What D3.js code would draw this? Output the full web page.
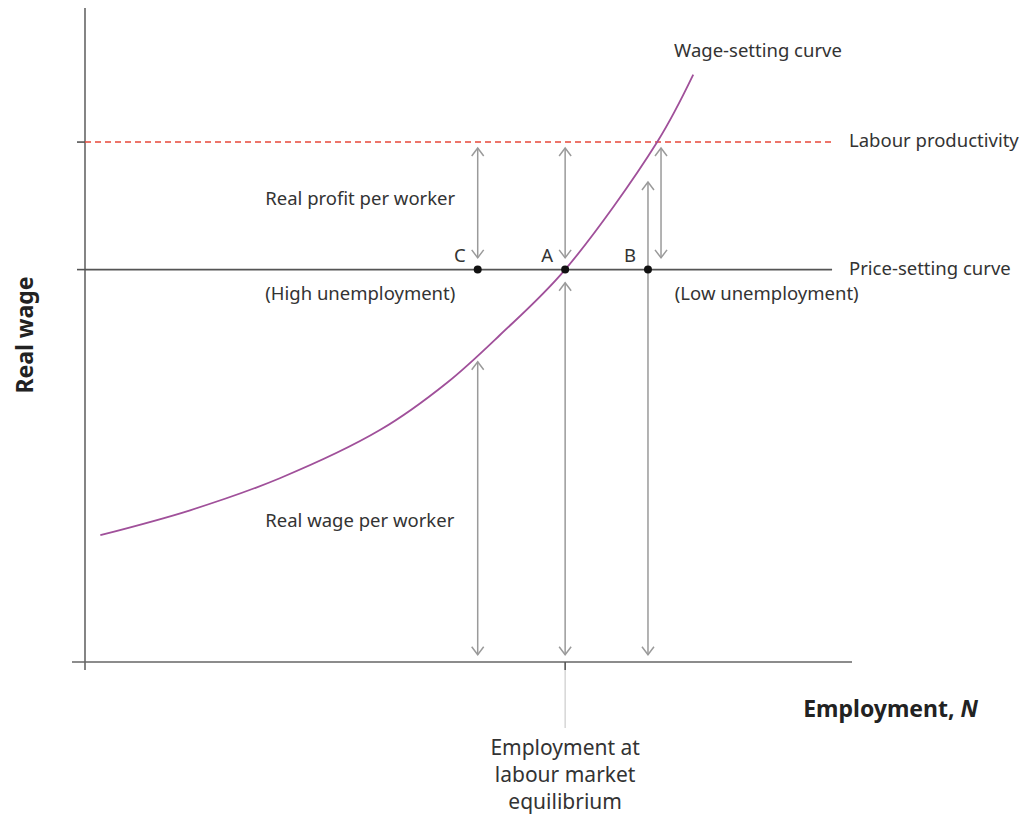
<!DOCTYPE html>
<html>
<head>
    <meta charset="UTF-8">
    <title>Labour market equilibrium</title>
    <script src="https://d3js.org/d3.v7.min.js"></script>
    <style>
        body { margin: 0; background: #ffffff; }
        svg { display: block; font-family: "Noto Sans", "Open Sans", sans-serif; }
        .lbl { font-size: 18.5px; fill: #333333; }
        .axis-title { font-size: 23px; font-weight: bold; fill: #222222; }
        .arrow { stroke: #9a9a9a; stroke-width: 1.5; fill: none; }
    </style>
</head>
<body>
    <svg id="chart"></svg>

    <script>
        // levels (same units on both axes, 0-100)
        const productivity = 79.5;
        const priceSetting = 60;

        // wage-setting curve
        const wageCurveN = [2.0, 13.7, 25.4, 38.5, 47.2, 54.1, 62.6, 74.6, 79.3];
        const wageCurveW = [19.4, 23.2, 28.1, 35.5, 42.7, 50.0, 60.0, 79.5, 89.8];

        // points on the price-setting curve
        const pointNames = ['C', 'A', 'B'];
        const pointN = [51.2, 62.6, 73.4];

        // double-headed arrows
        const arrowN   = [51.2, 62.6, 75.1, 51.2, 62.6, 73.4];
        const arrowTop = [78.6, 78.6, 78.6, 45.9, 58.0, 73.4];
        const arrowBot = [61.8, 61.8, 61.8, 1.1, 1.1, 1.1];

        const equilibriumN = 62.6;

        const width = 1024, height = 816;
        const svg = d3.select('#chart')
            .attr('width', width)
            .attr('height', height);

        const x = d3.scaleLinear().domain([0, 100]).range([85, 852]);
        const y = d3.scaleLinear().domain([0, 100]).range([662, 8]);

        // axes
        svg.append('line')
            .attr('x1', x(0)).attr('x2', x(0))
            .attr('y1', y(100)).attr('y2', y(0) + 8)
            .attr('stroke', '#666').attr('stroke-width', 1.6);
        svg.append('line')
            .attr('x1', x(0) - 13).attr('x2', x(100))
            .attr('y1', y(0)).attr('y2', y(0))
            .attr('stroke', '#666').attr('stroke-width', 1.6);

        // y ticks
        [productivity, priceSetting].forEach(v => {
            svg.append('line')
                .attr('x1', x(0) - 8).attr('x2', x(0))
                .attr('y1', y(v)).attr('y2', y(v))
                .attr('stroke', '#555').attr('stroke-width', 1.6);
        });

        // x tick + leader to the label
        svg.append('line')
            .attr('x1', x(equilibriumN)).attr('x2', x(equilibriumN))
            .attr('y1', y(0)).attr('y2', y(0) + 8)
            .attr('stroke', '#555').attr('stroke-width', 1.6);
        svg.append('line')
            .attr('x1', x(equilibriumN)).attr('x2', x(equilibriumN))
            .attr('y1', y(0) + 8).attr('y2', y(0) + 66)
            .attr('stroke', '#cccccc').attr('stroke-width', 1.2);

        // labour productivity (dashed)
        svg.append('line')
            .attr('x1', x(0)).attr('x2', x(97.4))
            .attr('y1', y(productivity)).attr('y2', y(productivity))
            .attr('stroke', '#e8483a').attr('stroke-width', 1.5)
            .attr('stroke-dasharray', '6,4');

        // price-setting curve
        svg.append('line')
            .attr('x1', x(0)).attr('x2', x(97.4))
            .attr('y1', y(priceSetting)).attr('y2', y(priceSetting))
            .attr('stroke', '#555').attr('stroke-width', 1.6);

        // arrows
        const head = 6, headLen = 8;
        arrowN.forEach((n, i) => {
            const ax = x(n), y1 = y(arrowTop[i]), y2 = y(arrowBot[i]);
            const g = svg.append('g').attr('class', 'arrow');
            g.append('line').attr('x1', ax).attr('x2', ax).attr('y1', y1).attr('y2', y2);
            g.append('polyline')
                .attr('points', `${ax - head},${y1 + headLen} ${ax},${y1} ${ax + head},${y1 + headLen}`);
            g.append('polyline')
                .attr('points', `${ax - head},${y2 - headLen} ${ax},${y2} ${ax + head},${y2 - headLen}`);
        });

        // wage-setting curve
        const curveData = wageCurveN.map((n, i) => [n, wageCurveW[i]]);
        svg.append('path')
            .datum(curveData)
            .attr('fill', 'none')
            .attr('stroke', '#a0509a')
            .attr('stroke-width', 1.8)
            .attr('d', d3.line().x(d => x(d[0])).y(d => y(d[1])).curve(d3.curveCatmullRom.alpha(0.5)));

        // points
        pointN.forEach((n, i) => {
            svg.append('circle')
                .attr('cx', x(n)).attr('cy', y(priceSetting)).attr('r', 4)
                .attr('fill', '#111');
            svg.append('text')
                .attr('class', 'lbl')
                .attr('x', x(n) - 12).attr('y', y(priceSetting) - 8)
                .attr('text-anchor', 'end')
                .text(pointNames[i]);
        });

        // labels
        const label = (tx, ty, txt, anchor, color) => svg.append('text')
            .attr('class', 'lbl')
            .attr('x', tx).attr('y', ty)
            .attr('text-anchor', anchor || 'start')
            .attr('dominant-baseline', 'middle')
            .attr('fill', color || '#333')
            .text(txt);

        label(x(76.8), 52, 'Wage-setting curve', 'start', '#a5579e');
        label(x(100) - 3, y(productivity), 'Labour productivity', 'start', '#e0502e');
        label(x(100) - 3, y(priceSetting), 'Price-setting curve');
        label(x(76.9), y(priceSetting) + 25, '(Low unemployment)');
        label(x(23.5), y(priceSetting) + 25, '(High unemployment)');
        label(x(23.5), 200, 'Real profit per worker');
        label(x(23.5), 522, 'Real wage per worker');

        // axis titles
        svg.append('text')
            .attr('class', 'axis-title')
            .attr('transform', `translate(27,${y(50)}) rotate(-90)`)
            .attr('text-anchor', 'middle')
            .attr('dominant-baseline', 'middle')
            .text('Real wage');

        const xt = svg.append('text')
            .attr('class', 'axis-title')
            .attr('x', 978).attr('y', 711)
            .attr('text-anchor', 'end')
            .attr('dominant-baseline', 'middle');
        xt.append('tspan').text('Employment, ');
        xt.append('tspan').attr('font-style', 'italic').text('N');

        ['Employment at', 'labour market', 'equilibrium'].forEach((t, i) => {
            svg.append('text')
                .attr('x', x(equilibriumN)).attr('y', 749 + i * 27)
                .attr('text-anchor', 'middle')
                .attr('dominant-baseline', 'middle')
                .attr('font-size', '21px')
                .attr('fill', '#333')
                .text(t);
        });
    </script>
</body>
</html>
